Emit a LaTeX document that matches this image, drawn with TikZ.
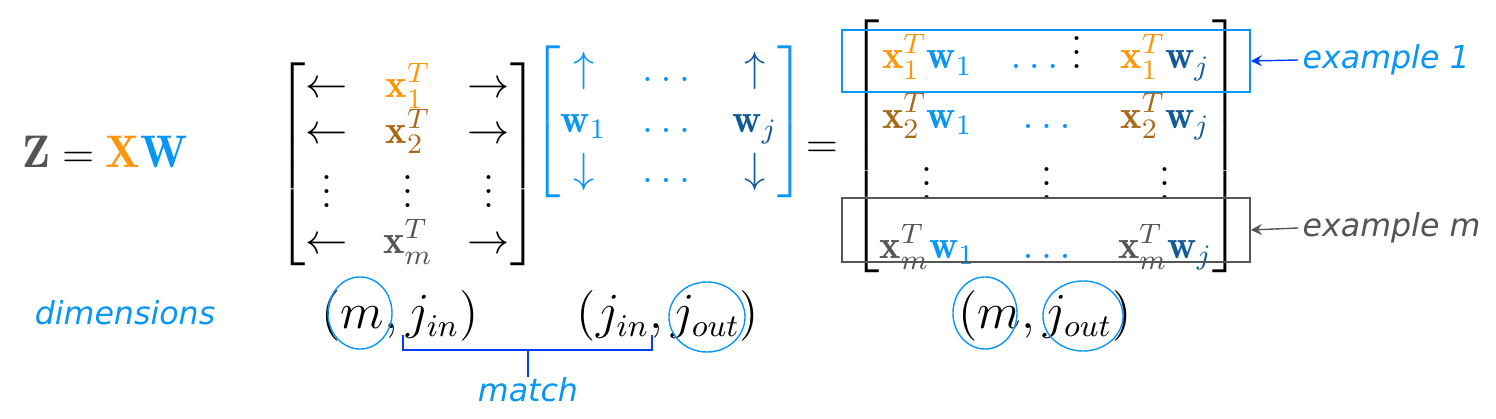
\documentclass[tikz,border=0pt]{standalone}
\usepackage{amsmath}
\usepackage{fontspec}
\newfontfamily\labelfont{DejaVu Sans}
\usetikzlibrary{shapes.geometric}
\definecolor{xone}{RGB}{255,150,10}
\definecolor{xtwo}{RGB}{170,105,25}
\definecolor{xgrey}{RGB}{85,85,85}
\definecolor{wblue}{RGB}{10,150,245}
\definecolor{wdark}{RGB}{20,90,150}
\newcommand{\xo}{\textcolor{xone}{\mathbf{x}_1^T}}
\newcommand{\xt}{\textcolor{xtwo}{\mathbf{x}_2^T}}
\newcommand{\xm}{\textcolor{xgrey}{\mathbf{x}_m^T}}
\newcommand{\wo}{\textcolor{wblue}{\mathbf{w}_1}}
\newcommand{\wj}{\textcolor{wdark}{\mathbf{w}_j}}
\newcommand{\bd}{\textcolor{wblue}{\dots}}
\begin{document}
\begin{tikzpicture}[x=0.01cm,y=-0.01cm,
  math/.style={font=\fontsize{11.5}{13}\selectfont, inner sep=0pt},
  dims/.style={font=\fontsize{13.5}{16}\selectfont, inner sep=0pt},
  tag/.style={font=\labelfont\itshape\fontsize{9}{11}\selectfont, inner sep=0pt},
  ring/.style={draw=wblue, ellipse, thin, inner sep=0pt},
  rowbox/.style={draw, thin},
  pointer/.style={-stealth}]
  \useasboundingbox (0,0) rectangle (1496,419);

  % equation
  \node[math, font=\fontsize{13}{16}\selectfont] (eq) at (105,152)
    {$\textcolor{xgrey}{\mathbf{Z}} = \textcolor{xone}{\mathbf{X}}\textcolor{wblue}{\mathbf{W}}$};

  % matrices
  \node[math] (X) at (408,164) {$\renewcommand\arraystretch{0.82}\begin{bmatrix}
    \leftarrow & \xo & \rightarrow\\ \leftarrow & \xt & \rightarrow\\
    \vdots & \vdots & \vdots\\ \leftarrow & \xm & \rightarrow\end{bmatrix}$};
  \node[math] (W) at (669,122) {$\renewcommand\arraystretch{1.1}\color{wblue}\left[\begin{matrix}
    \uparrow & \dots & \textcolor{wdark}{\uparrow}\\ \wo & \dots & \wj\\
    \downarrow & \dots & \textcolor{wdark}{\downarrow}\end{matrix}\right]$};
  \node[math] (is) at (822,150) {$=$};
  \node[math] (Z) at (1046,146) {$\renewcommand\arraystretch{1.3}\begin{bmatrix}
    \xo\wo & \bd\ \vdots & \xo\wj\\ \xt\wo & \bd & \xt\wj\\
    \vdots & \vdots & \vdots\\ \xm\wo & \bd & \xm\wj\end{bmatrix}$};

  % example rows
  \node[rowbox, draw=wblue, minimum width=4.08cm, minimum height=0.62cm] (row1) at (1046,61) {};
  \node[rowbox, draw=xgrey, minimum width=4.08cm, minimum height=0.64cm] (rowm) at (1046,230) {};
  \node[tag, text=wblue, anchor=west] (ex1) at (1302,60) {example 1};
  \node[tag, text=xgrey, anchor=west] (exm) at (1302,228) {example m};
  \draw[pointer, blue!60!wblue] (ex1.west) ++(-4,0) coordinate (a1) (a1) -- (row1.east);
  \draw[pointer, xgrey] (exm.west) ++(-4,0) coordinate (am) (am) -- (rowm.east);

  % dimensions
  \node[tag, text=wblue] (dim) at (125,313) {dimensions};
  \node[dims] (dX) at (400,316) {$(m, j_{in})$};
  \node[dims] (dW) at (668,316) {$(j_{in}, j_{out})$};
  \node[dims] (dZ) at (1045,316) {$(m, j_{out})$};
  \node[ring, minimum width=0.64cm, minimum height=0.72cm] (cXm) at (360,313) {};
  \node[ring, minimum width=0.76cm, minimum height=0.70cm] (cWo) at (707,317) {};
  \node[ring, minimum width=0.64cm, minimum height=0.72cm] (cZm) at (985,313) {};
  \node[ring, minimum width=0.80cm, minimum height=0.70cm] (cZo) at (1083,316) {};

  % match brace
  \coordinate (bl) at (403,335);
  \coordinate (br) at (652,335);
  \draw[blue!60!wblue] (bl) -- ++(0,15) -| (br);
  \node[tag, text=wblue] (match) at (528,390) {match};
  \draw[blue!60!wblue] (528,350) -- (match.north);
\end{tikzpicture}
\end{document}
